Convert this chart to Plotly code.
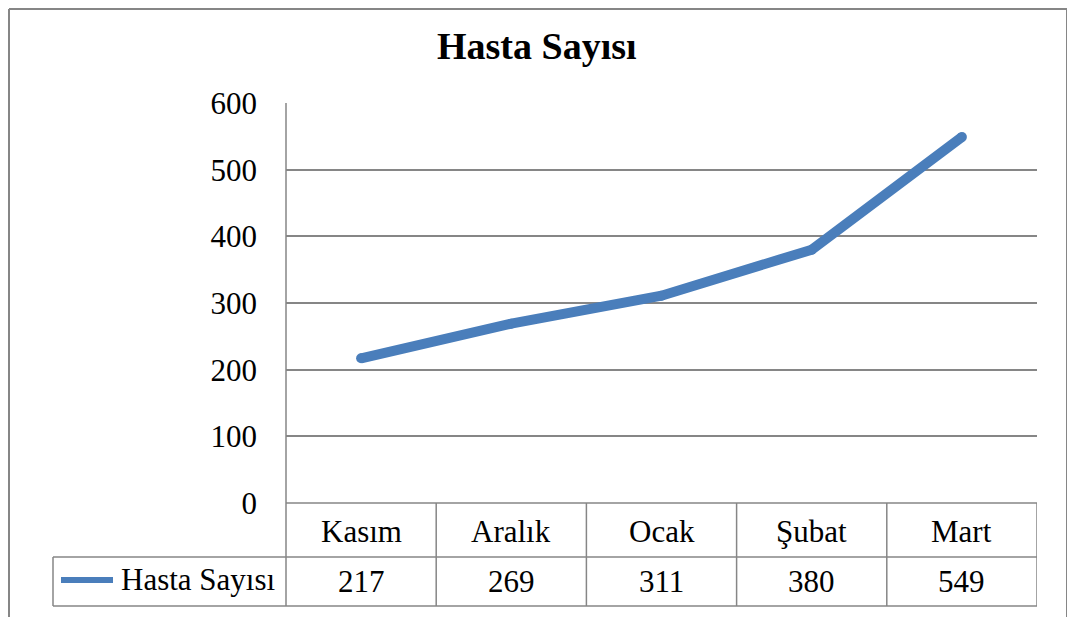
import plotly.graph_objects as go

categories = ["Kasım", "Aralık", "Ocak", "Şubat", "Mart"]
values = [217, 269, 311, 380, 549]
series_name = "Hasta Sayısı"
title_text = "Hasta Sayısı"
y_ticks = [0, 100, 200, 300, 400, 500, 600]

W, H = 1075, 617
OX, OY = 8, 8  # page body margin offset
FONT = "Liberation Serif"
GRID = "#868686"
LINE = "#4a7ebb"

def px(x):
    return (x - OX) / W

def py(y):
    return 1 - (y - OY) / H

PL, PR, PT, PB = 286, 1037, 103, 503
ROW1, ROW2 = 557, 606
LEG_L = 53

fig = go.Figure()
fig.add_trace(go.Scatter(
    x=categories, y=values, mode="lines+markers", name=series_name,
    line=dict(color=LINE, width=10),
    marker=dict(color=LINE, size=10, line=dict(width=0)),
    showlegend=False, hoverinfo="skip", cliponaxis=False,
))

shapes = []
def seg(x0, y0, x1, y1, color=GRID, width=1.5):
    shapes.append(dict(type="line", xref="paper", yref="paper", x0=px(x0), x1=px(x1),
                       y0=py(y0), y1=py(y1), line=dict(color=color, width=width)))

# outer chart border
seg(9, 9, 9, H + 20, width=2)
seg(9, 9, 1067, 9, width=2)
seg(1067, 9, 1067, H + 20, width=2)
# y axis line through table
seg(PL, PT, PL, ROW2)
# column separators in data coordinates
for i in range(len(categories)):
    xb = i + 0.5
    shapes.append(dict(type="line", xref="x", yref="paper", x0=xb, x1=xb,
                       y0=py(PB), y1=py(ROW2), line=dict(color=GRID, width=1.5)))
# table horizontals
seg(PL, PB, PR, PB)
seg(LEG_L, ROW1, PR, ROW1)
seg(LEG_L, ROW2, PR, ROW2)
seg(LEG_L, ROW1, LEG_L, ROW2)
# legend key line
seg(61, 580, 113, 580, color=LINE, width=6)

annotations = []
for c, v in zip(categories, values):
    annotations.append(dict(x=c, xref="x", y=py(531), yref="paper",
                            text=c, showarrow=False, xanchor="center", yanchor="middle",
                            font=dict(family=FONT, size=31, color="black")))
    annotations.append(dict(x=c, xref="x", y=py(581), yref="paper",
                            text=str(v), showarrow=False, xanchor="center", yanchor="middle",
                            font=dict(family=FONT, size=31, color="black")))
annotations.append(dict(x=px(119), xref="paper", y=py(579), yref="paper",
                        text=series_name, showarrow=False, xanchor="left", yanchor="middle",
                        font=dict(family=FONT, size=31, color="black")))
annotations.append(dict(x=px(537), xref="paper", y=py(46), yref="paper",
                        text="<b>" + title_text + "</b>", showarrow=False,
                        xanchor="center", yanchor="middle",
                        font=dict(family=FONT, size=38, color="black")))

fig.update_layout(
    width=W, height=H,
    margin=dict(l=0, r=0, t=0, b=0, autoexpand=False),
    paper_bgcolor="white", plot_bgcolor="white",
    showlegend=False,
    shapes=shapes, annotations=annotations,
    xaxis=dict(domain=[px(PL), px(PR)], type="category", categoryarray=categories,
               range=[-0.5, len(categories) - 0.5], showticklabels=False,
               showgrid=False, zeroline=False, showline=False, ticks="", automargin=False),
    yaxis=dict(domain=[py(PB), py(PT)], range=[0, 600], tickvals=y_ticks,
               showgrid=True, gridcolor=GRID, gridwidth=1.5, zeroline=False,
               showline=False, ticks="", ticklabelstandoff=28, automargin=False,
               tickfont=dict(family=FONT, size=31, color="black")),
)

fig.write_html("out.html")
